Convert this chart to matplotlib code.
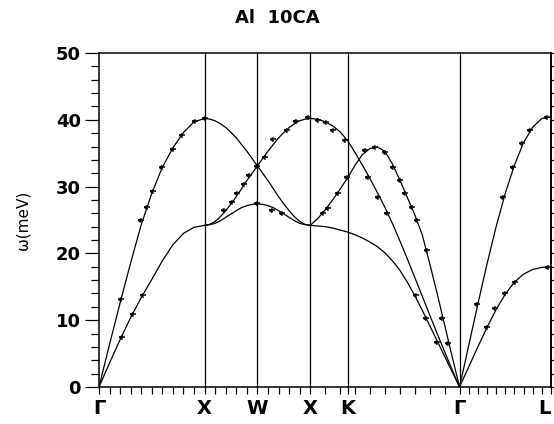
import numpy as np
import matplotlib.pyplot as plt

plt.rcParams['font.family'] = ['DejaVu Sans']

# symmetry points along the path, wavevector in units of 2pi/a
labels = ['Γ', 'X', 'W', 'X', 'K', 'Γ', 'L']
label_pos = [0.0, 1.0, 1.5, 2.0, 2.354, 3.414, 4.280]

# calculated curves (meV)
# Gamma -> X, step 0.1
gx_la = [0, 6.4, 12.6, 18.6, 24.3, 29.0, 32.9, 35.8, 38.1, 39.7, 40.2]
gx_ta = [0, 3.6, 7.1, 10.4, 13.4, 16.1, 18.9, 21.3, 23.0, 23.9, 24.2]
# X -> W, step 0.05
xw_a = [40.2, 40.1, 39.85, 39.4, 38.85, 38.1, 37.3, 36.3, 35.3, 34.2, 33.1]
xw_b = [24.2, 24.35, 24.8, 25.5, 26.4, 27.4, 28.5, 29.7, 30.9, 32.0, 33.1]
xw_c = [24.2, 24.3, 24.5, 24.9, 25.4, 25.9, 26.4, 26.85, 27.15, 27.35, 27.4]
# X -> K -> Gamma, half of the 0.1 [110] step
xg_s3 = [40.2, 40.1, 39.7, 39.1, 38.2, 36.9, 35.1, 33.2, 31.2, 29.1, 26.9,
         24.5, 21.9, 19.2, 16.4, 13.6, 10.8, 8.0, 5.3, 2.6, 0]
xg_s1 = [24.2, 25.2, 26.5, 28.0, 29.6, 31.3, 33.2, 34.8, 35.7, 35.9, 35.3,
         33.4, 31.0, 28.4, 25.8, 22.8, 18.5, 14.0, 9.3, 4.6, 0]
xg_s4 = [24.2, 24.1, 24.0, 23.8, 23.5, 23.2, 22.8, 22.3, 21.7, 21.0, 20.1,
         18.9, 17.5, 15.7, 13.7, 11.5, 9.2, 6.9, 4.6, 2.3, 0]
# Gamma -> L, step 0.1 of [111]
gl_la = [0, 6.2, 12.4, 18.4, 24.0, 29.0, 33.2, 36.6, 38.9, 40.2, 40.4]
gl_ta = [0, 3.0, 6.0, 8.9, 11.6, 13.9, 15.7, 16.9, 17.6, 17.9, 18.0]

# measured points (q, meV)
meas_q = [0.21, 0.40, 0.45, 0.51, 0.60, 0.70, 0.79, 0.91, 1.0,
          0.22, 0.32, 0.42,
          1.18, 1.26, 1.31, 1.37, 1.42, 1.5, 1.5,
          1.57, 1.65, 1.78, 1.87, 1.98, 1.64, 1.73,
          2.074, 2.150, 2.216, 2.33, 2.547, 2.642, 2.727,
          2.121, 2.169, 2.263, 2.348, 2.519, 2.614, 2.708, 2.784, 2.850,
          2.898, 2.964, 3.011, 3.106, 3.248, 3.305,
          2.998, 3.097, 3.201,
          3.580, 3.826, 3.920, 4.006, 4.081, 4.242,
          3.674, 3.750, 3.845, 3.939, 4.25]
meas_w = [13.2, 25.0, 26.9, 29.3, 32.9, 35.6, 37.7, 39.8, 40.3,
          7.5, 10.9, 13.8,
          26.5, 27.7, 29.0, 30.4, 31.7, 33.1, 27.5,
          34.4, 37.1, 38.5, 39.8, 40.4, 26.5, 26.0,
          40.0, 39.6, 38.5, 37.0, 31.4, 28.4, 26.0,
          26.0, 26.8, 29.0, 31.4, 35.5, 35.9, 35.2, 32.9, 31.0,
          29.0, 26.9, 25.0, 20.5, 10.3, 6.6,
          13.8, 10.3, 6.7,
          12.4, 28.4, 32.9, 36.5, 38.5, 40.4,
          9.0, 11.8, 14.1, 15.7, 18.0]

G0, X1, W, X2, K, G1, L = label_pos
q_gx = np.linspace(G0, X1, len(gx_la))
q_xw = np.linspace(X1, W, len(xw_a))
q_wx = np.linspace(W, X2, len(xw_a))
q_xg = np.linspace(X2, G1, len(xg_s1))
q_gl = np.linspace(G1, L, len(gl_la))

fig = plt.figure(figsize=(5.54, 4.24), dpi=100)
ax = fig.add_axes([99/554, 1-387/424, 452/554, 334/424])

kw = dict(color='black', lw=0.9)
ax.plot(q_gx, gx_la, **kw)
ax.plot(q_gx, gx_ta, **kw)
for br in (xw_a, xw_b, xw_c):
    ax.plot(q_xw, br, **kw)
    ax.plot(q_wx, br[::-1], **kw)
for br in (xg_s1, xg_s3, xg_s4):
    ax.plot(q_xg, br, **kw)
ax.plot(q_gl, gl_la, **kw)
ax.plot(q_gl, gl_ta, **kw)

ax.plot(meas_q, meas_w, ls='none', marker='_', ms=5, mew=1.1, color='black')
ax.plot(meas_q, meas_w, ls='none', marker=8, ms=3, color='black')

for p in label_pos[1:-1]:
    ax.axvline(p, color='black', lw=0.9)

ax.set_xlim(0, L)
ax.set_ylim(0, 50)

# small ticks every 0.1 of the reduced wavevector in each direction
qt = np.concatenate([np.linspace(G0, X1, 11), np.linspace(X1, W, 6),
                     np.linspace(W, X2, 6), np.linspace(X2, G1, 11),
                     np.linspace(G1, L, 11)])
ax.set_xticks(qt, minor=True)
ax.set_xticks(label_pos)
ax.set_xticklabels(labels, fontsize=14, fontweight='bold')
ax.get_xticklabels()[-1].set_horizontalalignment('right')
ax.tick_params(axis='x', which='both', direction='out', length=5, width=0.9, pad=4)

ax.set_yticks(np.arange(0, 51, 10))
ax.set_yticks(np.arange(0, 51, 2), minor=True)
ax.set_yticklabels([str(v) for v in range(0, 51, 10)], fontsize=13, fontweight='bold')
ax.tick_params(axis='y', which='major', length=10, width=0.9, pad=3)
ax.tick_params(axis='y', which='minor', length=6, width=0.9)

sec = ax.secondary_yaxis('right')
sec.set_yticks(np.arange(0, 51, 2))
sec.set_yticklabels([])
sec.tick_params(length=3, width=0.9)
sec.spines['right'].set_linewidth(1.1)

for s in ax.spines.values():
    s.set_linewidth(1.1)

ax.set_ylabel('ω(meV)', fontsize=11, labelpad=18)
fig.text(0.5, 1-18/424, 'Al  10CA', ha='center', va='center',
         fontsize=13, fontweight='bold')

fig.savefig('out.png', dpi=100)
